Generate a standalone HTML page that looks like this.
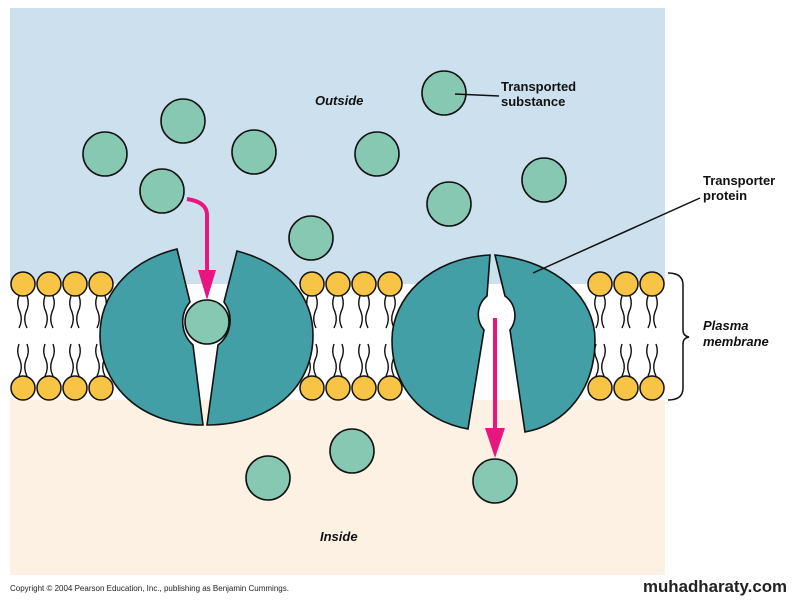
<!DOCTYPE html>
<html><head><meta charset="utf-8"><style>
body{margin:0;width:793px;height:600px;background:#fff;overflow:hidden}
text{font-family:"Liberation Sans",Arial,sans-serif}
</style></head><body>
<svg width="793" height="600" viewBox="0 0 793 600">
<rect x="10" y="8" width="655" height="276" fill="#cde0ee"/>
<rect x="10" y="284" width="655" height="116" fill="#ffffff"/>
<rect x="10" y="400" width="655" height="175" fill="#fcf1e2"/>
<defs>
<g id="lp">
<path d="M-4,296 q-3,8 1,16 q3,8 -1,16 M4,296 q3,8 -1,16 q-3,8 1,16 M-4,344 q-3,8 1,16 q3,8 -1,16 M4,344 q3,8 -1,16 q-3,8 1,16" stroke="#111" stroke-width="1.4" fill="none"/>
<circle cx="0" cy="284" r="12" fill="#f8c446" stroke="#111" stroke-width="1.5"/>
<circle cx="0" cy="388" r="12" fill="#f8c446" stroke="#111" stroke-width="1.5"/>
</g>
</defs>
<use href="#lp" x="23"/><use href="#lp" x="49"/><use href="#lp" x="75"/><use href="#lp" x="101"/>
<use href="#lp" x="312"/><use href="#lp" x="338"/><use href="#lp" x="364"/><use href="#lp" x="390"/>
<use href="#lp" x="600"/><use href="#lp" x="626"/><use href="#lp" x="652"/>
<g fill="#419fa5" stroke="#111" stroke-width="1.6">
<path d="M177,249 C125,262 100,298 100,335 C100,385 140,425 203,425 L193,345 A31,31 0 0 1 190,302 Z"/>
<path d="M237,251 C290,265 313,300 313,335 C313,390 268,425 207,425 L218,345 A31,31 0 0 0 224,302 Z"/>
<path d="M490,255 C430,258 392,298 392,340 C392,385 420,420 468,429 L484,330 A24,24 0 0 1 487,296 Z"/>
<path d="M495,255 C560,262 595,300 595,340 C595,390 565,425 525,432 L510,330 A24,24 0 0 0 505,296 Z"/>
</g>
<g fill="#86c8b2" stroke="#111" stroke-width="1.6">
<circle cx="183" cy="121" r="22"/><circle cx="105" cy="154" r="22"/><circle cx="254" cy="152" r="22"/>
<circle cx="162" cy="191" r="22"/><circle cx="311" cy="238" r="22"/><circle cx="377" cy="154" r="22"/>
<circle cx="444" cy="93" r="22"/><circle cx="449" cy="204" r="22"/><circle cx="544" cy="180" r="22"/>
<circle cx="352" cy="451" r="22"/><circle cx="268" cy="478" r="22"/><circle cx="495" cy="481" r="22"/>
<circle cx="207" cy="322" r="22"/>
</g>
<g stroke="#e8177f" stroke-width="4" fill="none">
<path d="M187,199 Q207,202 207,215 L207,275"/>
<path d="M495,318 L495,440"/>
</g>
<g fill="#e8177f">
<polygon points="198,270 216,270 207,300"/>
<polygon points="485,428 505,428 495,458"/>
</g>
<g stroke="#111" stroke-width="1.5" fill="none">
<line x1="455" y1="94" x2="499" y2="96"/>
<line x1="533" y1="273" x2="700" y2="198"/>
<path d="M668,273 Q683,273 683,285 L683,330 Q683,336 689,337 Q683,338 683,344 L683,388 Q683,400 668,400"/>
</g>
<g font-size="13" font-weight="bold" fill="#111">
<text x="315" y="105" font-style="italic">Outside</text>
<text x="501" y="91">Transported</text>
<text x="501" y="106">substance</text>
<text x="703" y="185">Transporter</text>
<text x="703" y="200">protein</text>
<text x="703" y="330" font-style="italic">Plasma</text>
<text x="703" y="346" font-style="italic">membrane</text>
<text x="320" y="541" font-style="italic">Inside</text>
</g>
<text x="10" y="591" font-size="8" fill="#222">Copyright © 2004 Pearson Education, Inc., publishing as Benjamin Cummings.</text>
<text x="643" y="592" font-size="17" font-weight="bold" fill="#222" textLength="144" lengthAdjust="spacingAndGlyphs">muhadharaty.com</text>
</svg>
</body></html>
